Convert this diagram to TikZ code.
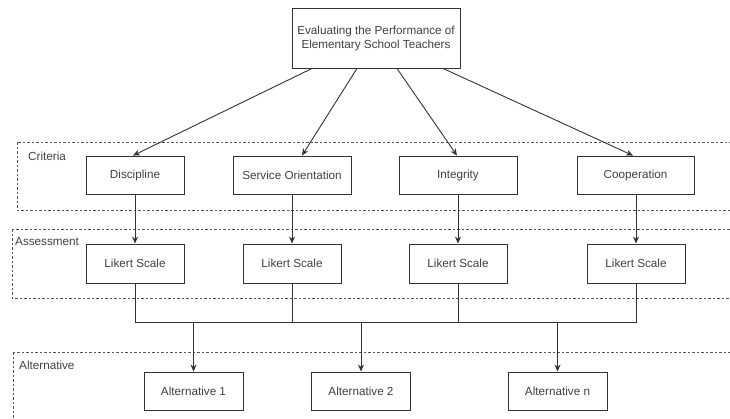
\documentclass[tikz,border=0pt]{standalone}
\usepackage{fontspec}
\setmainfont{Liberation Sans}
\usetikzlibrary{arrows.meta}
\definecolor{linec}{HTML}{333333}
\definecolor{textc}{HTML}{404040}
\definecolor{dashc}{HTML}{555555}
\begin{document}
\begin{tikzpicture}[x=1pt,y=-1pt,
  box/.style={draw=linec,line width=0.9pt,fill=white,minimum height=38pt,inner sep=0pt,
    font=\fontsize{11.7}{14}\selectfont,text=textc,align=center},
  conn/.style={draw=linec,line width=0.9pt},
  arr/.style={conn,-{Stealth[length=7pt,width=6pt]}},
  layer/.style={draw=dashc,line width=0.8pt,dash pattern=on 2.5pt off 2pt},
  lbl/.style={anchor=west,inner sep=0pt,font=\fontsize{11.7}{14}\selectfont,text=textc}]
\useasboundingbox (0,0) rectangle (730,418);
\clip (0,0) rectangle (730,418);
\fill[white] (0,0) rectangle (730,418);
% layers
\draw[layer] (17,142) rectangle (745,210);
\draw[layer] (12,229) rectangle (745,298);
\draw[layer] (13,352) rectangle (745,440);
\node[lbl] (lcrit) at (28,156) {Criteria};
\node[lbl] (lass) at (15,242) {Assessment};
\node[lbl] (lalt) at (19,365) {Alternative};
% nodes
\node[box,minimum width=168pt,minimum height=60pt] (top) at (376,38)
  {Evaluating the Performance of\\Elementary School Teachers};
\node[box,minimum width=98pt] (disc) at (135,175) {Discipline};
\node[box,minimum width=118pt] (serv) at (292,175) {Service Orientation};
\node[box,minimum width=118pt] (integ) at (458,175) {Integrity};
\node[box,minimum width=117pt] (coop) at (635.5,175) {Cooperation};
\node[box,minimum width=98pt,minimum height=39pt] (l1) at (135,263.5) {Likert Scale};
\node[box,minimum width=98pt,minimum height=39pt] (l2) at (292,263.5) {Likert Scale};
\node[box,minimum width=98pt,minimum height=39pt] (l3) at (458,263.5) {Likert Scale};
\node[box,minimum width=98pt,minimum height=39pt] (l4) at (636,263.5) {Likert Scale};
\node[box,minimum width=99pt] (a1) at (193.5,391) {Alternative 1};
\node[box,minimum width=99pt] (a2) at (361,391) {Alternative 2};
\node[box,minimum width=99pt] (an) at (557.5,391) {Alternative n};
\coordinate (bus) at (0,322);
% connectors
\draw[arr] ([xshift=-64pt]top.south) -- ([xshift=-2pt]disc.north);
\draw[arr] ([xshift=-19pt]top.south) -- ([xshift=10pt]serv.north);
\draw[arr] ([xshift=21pt]top.south) -- ([xshift=-1pt]integ.north);
\draw[arr] ([xshift=67pt]top.south) -- ([xshift=-2.5pt]coop.north);
\draw[arr] (disc.south) -- (l1.north);
\draw[arr] (serv.south) -- (l2.north);
\draw[arr] (integ.south) -- (l3.north);
\draw[arr] (coop.south -| l4.north) -- (l4.north);
\draw[conn] (l1.south) -- (l1.south |- bus) -- (l4.south |- bus) -- (l4.south);
\draw[conn] (l2.south) -- (l2.south |- bus);
\draw[conn] (l3.south) -- (l3.south |- bus);
\draw[arr] (a1.north |- bus) -- (a1.north);
\draw[arr] (a2.north |- bus) -- (a2.north);
\draw[arr] (an.north |- bus) -- (an.north);
\end{tikzpicture}
\end{document}
